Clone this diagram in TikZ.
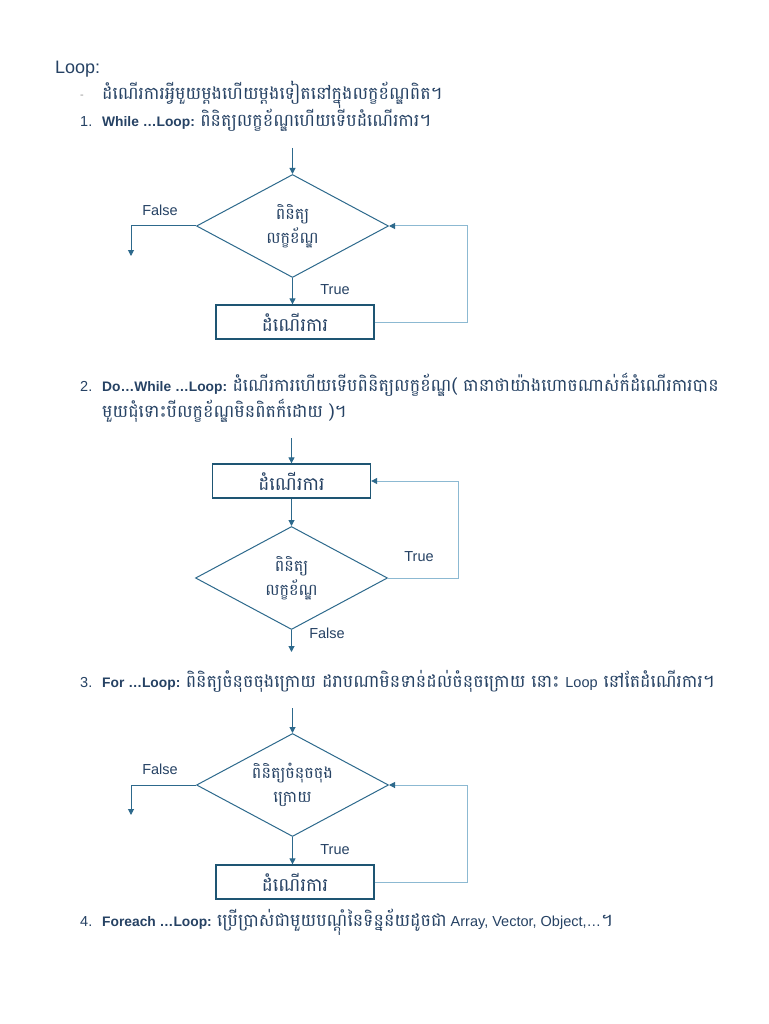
\documentclass[tikz,border=0pt]{standalone}
\usepackage{fontspec}
\setmainfont{Liberation Sans}
\newfontfamily\khmer[Script=Khmer]{Battambang}
\usetikzlibrary{positioning,arrows.meta,shapes.geometric}
\definecolor{TextNavy}{RGB}{38,66,100}
\definecolor{LineTeal}{RGB}{45,105,140}
\definecolor{BoxEdge}{RGB}{30,85,115}
\definecolor{BackBlue}{RGB}{140,185,210}
\definecolor{DashGray}{RGB}{150,150,150}
\newcommand{\kh}[1]{{\khmer\fontsize{17.5}{20}\selectfont #1}}
\newcommand{\looptag}[1]{{\bfseries\fontsize{13.8}{17}\selectfont #1}}
\tikzset{
  flow/.style={-{Triangle[length=6pt,width=6pt]},line width=1pt,draw=LineTeal},
  backflow/.style={-{Triangle[length=6pt,width=6pt,color=LineTeal]},line width=1pt,draw=BackBlue},
  cond/.style={diamond,draw=LineTeal,line width=1pt,aspect=1.85,minimum width=192pt,
    minimum height=103pt,inner sep=1pt,align=center,text=TextNavy,
    font=\khmer\fontsize{16}{24}\selectfont},
  procbox/.style={draw=BoxEdge,line width=1.3pt,minimum width=158pt,minimum height=34pt,
    inner sep=0pt,text=TextNavy,font=\khmer\fontsize{18.5}{20}\selectfont},
  lbl/.style={text=TextNavy,font=\fontsize{14.5}{16}\selectfont},
  itemline/.style={anchor=base west,inner sep=0pt,text=TextNavy,font=\fontsize{14.5}{17}\selectfont},
  khline/.style={anchor=base west,inner sep=0pt,text=TextNavy,font=\khmer\fontsize{17.5}{20}\selectfont}
}

\begin{document}
\begin{tikzpicture}[x=1pt,y=1pt]
  \useasboundingbox[fill=white] (0,0) rectangle (768,-1024);

  % heading and intro
  \node[itemline,font=\fontsize{18}{21}\selectfont] (title) at (55,-74) {Loop:};
  \node[itemline,text=DashGray,font=\fontsize{11}{13}\selectfont] (dash) at (80,-99) {-};
  \node[khline] (intro) at (102,-100) {ដំណើរការអ្វីមួយម្តងហើយម្តងទៀតនៅក្នុងលក្ខខ័ណ្ឌពិត។};

  % 1. while loop
  \node[itemline] (n1) at (80,-127) {1.};
  \node[itemline] (i1) at (102,-127) {\looptag{While …Loop:} \kh{ពិនិត្យលក្ខខ័ណ្ឌហើយទើបដំណើរការ។}};
  \coordinate (in1) at (292.5,-148);
  \node[cond] (chk1) at (292.5,-226) {ពិនិត្យ\\លក្ខខ័ណ្ឌ};
  \node[procbox] (run1) at (295,-322) {ដំណើរការ};
  \coordinate (ret1) at (467,-226);
  \coordinate (out1) at (131,-256);
  \draw[flow] (in1) -- (chk1.north);
  \draw[flow] (chk1.south) -- (chk1.south |- run1.north);
  \draw[backflow] (run1.east) -| (ret1) -- (chk1.east);
  \draw[flow] (chk1.west) -| (out1);
  \node[lbl] (f1) at (160,-210) {False};
  \node[lbl] (t1) at (335,-290) {True};

  % 2. do while loop
  \node[itemline] (n2) at (80,-391) {2.};
  \node[itemline] (i2) at (102,-391) {\looptag{Do…While …Loop:} \kh{ដំណើរការហើយទើបពិនិត្យលក្ខខ័ណ្ឌ( ធានាថាយ៉ាងហោចណាស់ក៏ដំណើរការបាន}};
  \node[khline] (i2b) at (102,-417) {មួយជុំទោះបីលក្ខខ័ណ្ឌមិនពិតក៏ដោយ )។};
  \coordinate (in2) at (291.5,-438);
  \node[procbox] (run2) at (291.5,-481) {ដំណើរការ};
  \node[cond] (chk2) at (291.5,-578) {ពិនិត្យ\\លក្ខខ័ណ្ឌ};
  \coordinate (ret2) at (458,-578);
  \coordinate (out2) at (291.5,-652);
  \draw[flow] (in2) -- (run2.north);
  \draw[flow] (run2.south) -- (chk2.north);
  \draw[backflow] (chk2.east) -- (ret2) |- (run2.east);
  \draw[flow] (chk2.south) -- (out2);
  \node[lbl] (t2) at (419,-557) {True};
  \node[lbl] (f2) at (327,-633) {False};

  % 3. for loop
  \node[itemline] (n3) at (80,-687) {3.};
  \node[itemline] (i3) at (102,-687) {\looptag{For …Loop:} \kh{ពិនិត្យចំនុចចុងក្រោយ ដរាបណាមិនទាន់ដល់ចំនុចក្រោយ នោះ {\rmfamily\fontsize{14.5}{17}\selectfont Loop} នៅតែដំណើរការ។}};
  \coordinate (in3) at (292.5,-708);
  \node[cond] (chk3) at (292.5,-785) {ពិនិត្យចំនុចចុង\\ក្រោយ};
  \node[procbox] (run3) at (295,-882) {ដំណើរការ};
  \coordinate (ret3) at (467,-785);
  \coordinate (out3) at (131,-815);
  \draw[flow] (in3) -- (chk3.north);
  \draw[flow] (chk3.south) -- (chk3.south |- run3.north);
  \draw[backflow] (run3.east) -| (ret3) -- (chk3.east);
  \draw[flow] (chk3.west) -| (out3);
  \node[lbl] (f3) at (160,-769) {False};
  \node[lbl] (t3) at (335,-850) {True};

  % 4. foreach loop
  \node[itemline] (n4) at (80,-926) {4.};
  \node[itemline] (i4) at (102,-926) {\looptag{Foreach …Loop:} \kh{ប្រើប្រាស់ជាមួយបណ្តុំនៃទិន្នន័យដូចជា} Array, Vector, Object,…\kh{។}};
\end{tikzpicture}
\end{document}
